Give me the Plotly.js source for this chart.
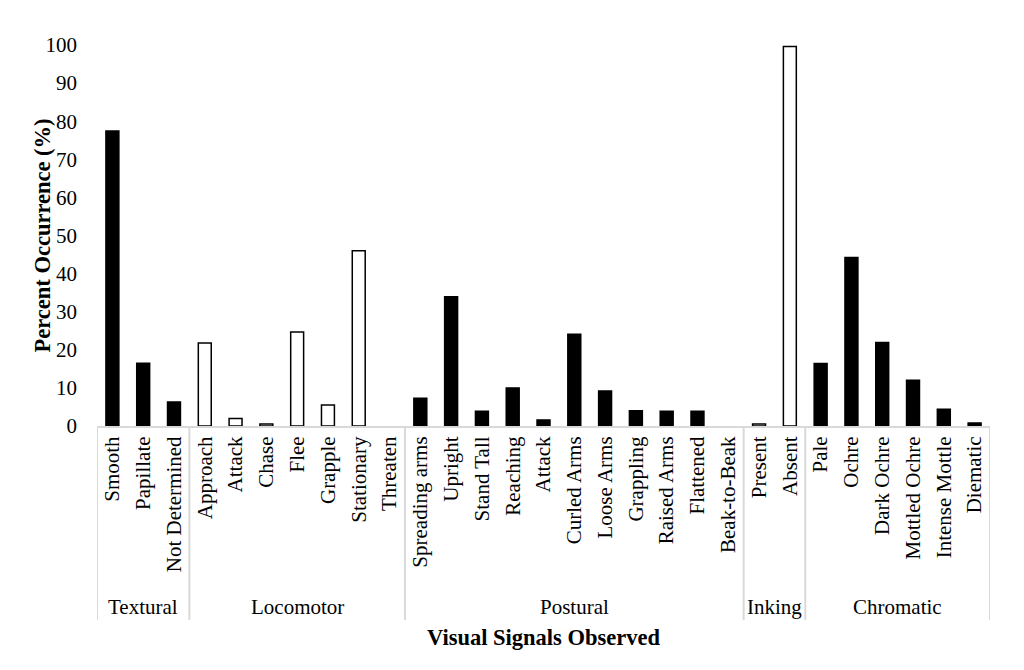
<!DOCTYPE html>
<html>
<head>
<meta charset="utf-8">
<script src="https://cdn.plot.ly/plotly-3.0.1.min.js"></script>
<style>html,body{margin:0;padding:0;background:#fff;}#chart{width:1024px;height:670px;}</style>
</head>
<body>
<div id="chart"></div>
<script>
const groupNames = ["Textural","Locomotor","Postural","Inking","Chromatic"];
const groupSizes = [3, 7, 11, 2, 6];
const signals = ["Smooth","Papillate","Not Determined",
  "Approach","Attack","Chase","Flee","Grapple","Stationary","Threaten",
  "Spreading arms","Upright","Stand Tall","Reaching","Attack","Curled Arms","Loose Arms","Grappling","Raised Arms","Flattened","Beak-to-Beak",
  "Present","Absent",
  "Pale","Ochre","Dark Ochre","Mottled Ochre","Intense Mottle","Diematic"];
const occurrence = [77.4,16.5,6.3,
  21.8,2.0,0.5,24.7,5.5,46.0,0,
  7.3,33.9,3.9,10.0,1.6,24.1,9.2,4.0,3.9,3.9,0,
  0.5,99.6,
  16.4,44.2,21.9,12.0,4.4,0.8];
const outlinedGroups = ["Locomotor","Inking"];

// derived
const groups = [];
groupNames.forEach((g, i) => { for (let k = 0; k < groupSizes[i]; k++) groups.push(g); });
const xs = signals.map((_, i) => i);
const fills = groups.map(g => outlinedGroups.includes(g) ? "#ffffff" : "#000000");
const lineWidths = occurrence.map(v => v > 0 ? 1.5 : 0);

const font = "Liberation Serif, Times New Roman, serif";
const FS = 21;
const TFS = 22.5;
const trace = {
  type: "bar",
  x: xs,
  y: occurrence,
  marker: {color: fills, line: {color: "#000000", width: lineWidths}},
  width: 0.42,
  text: signals,
  hovertemplate: "%{text}: %{y}%<extra></extra>",
  textposition: "none"
};

const plotH = 670 - 45 - 244;
const py = px => (426 - px) / plotH;

const shapes = [];
const annotations = [];
let start = 0;
const bounds = [-0.5];
groupSizes.forEach((n, i) => {
  const center = start + (n - 1) / 2;
  annotations.push({
    xref: "x", yref: "paper", x: center, y: py(607), yanchor: "middle", xanchor: "center",
    text: groupNames[i], showarrow: false, font: {family: font, size: FS, color: "#000"}
  });
  start += n;
  bounds.push(start - 0.5);
});
bounds.forEach(b => {
  shapes.push({type: "line", xref: "x", yref: "paper", x0: b, x1: b, y0: 0, y1: py(620),
    line: {color: "#d9d9d9", width: 2}});
});
annotations.push({
  xref: "paper", yref: "paper", x: 0.5, y: py(637), xanchor: "center", yanchor: "middle",
  text: "<b>Visual Signals Observed</b>", showarrow: false, font: {family: font, size: TFS, color: "#000"}
});
annotations.push({
  xref: "paper", yref: "paper", x: (42 - 97) / 893, y: 0.5, xanchor: "center", yanchor: "middle",
  textangle: -90, text: "<b>Percent Occurrence (%)</b>", showarrow: false, font: {family: font, size: TFS, color: "#000"}
});

const layout = {
  width: 1024, height: 670,
  margin: {l: 97, r: 34, t: 45, b: 244},
  paper_bgcolor: "#fff", plot_bgcolor: "#fff",
  font: {family: font, size: FS, color: "#000"},
  showlegend: false,
  xaxis: {
    range: [-0.5, signals.length - 0.5],
    tickmode: "array", tickvals: xs, ticktext: signals, tickangle: -90,
    showline: true, linecolor: "#d9d9d9", linewidth: 2,
    ticks: "", showgrid: false, zeroline: false, fixedrange: true,
    tickfont: {family: font, size: FS, color: "#000"}
  },
  yaxis: {
    range: [0, 100], dtick: 10, showgrid: false, zeroline: false, showline: false,
    ticks: "", ticklabelstandoff: 19, fixedrange: true,
    tickfont: {family: font, size: FS, color: "#000"}
  },
  shapes: shapes,
  annotations: annotations
};
Plotly.newPlot("chart", [trace], layout, {displayModeBar: false, responsive: false});
</script>
</body>
</html>
